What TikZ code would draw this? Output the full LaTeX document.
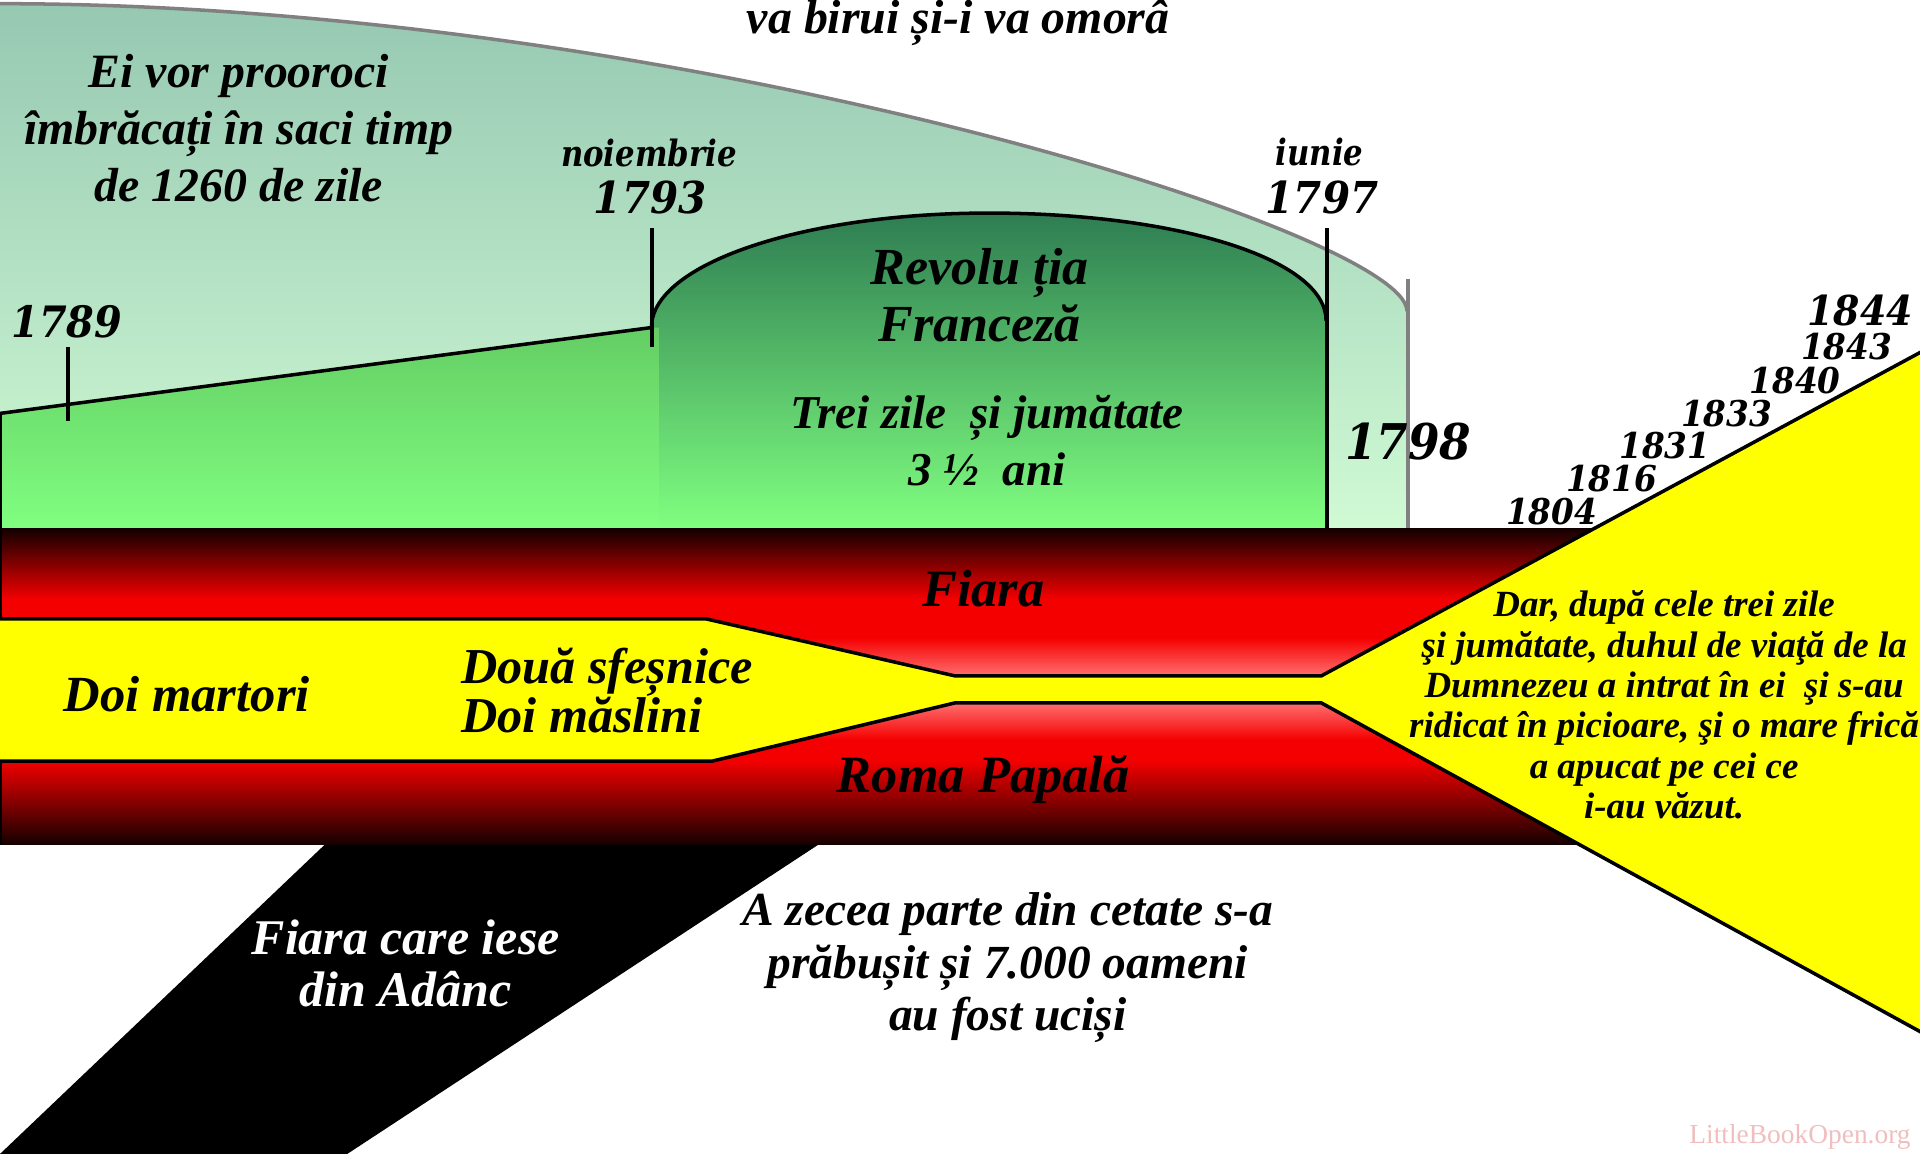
\documentclass[tikz,border=0pt]{standalone}
\usepackage{fontspec}
\setmainfont{Liberation Serif}
\newfontfamily\dvs[FakeStretch=0.92]{DejaVu Serif}
\newfontfamily\dvsc[FakeStretch=0.85]{DejaVu Serif}
\definecolor{domeTop}{RGB}{150,200,178}
\definecolor{domeBot}{RGB}{208,250,212}
\definecolor{leftTop}{RGB}{100,205,100}
\definecolor{greenBot}{RGB}{128,255,128}
\definecolor{revTop}{RGB}{46,125,82}
\definecolor{bandBlack}{RGB}{20,0,0}
\definecolor{bandRed}{RGB}{245,0,0}
\definecolor{bandPink}{RGB}{255,110,110}
\definecolor{stripYellow}{RGB}{255,255,0}
\definecolor{arcGray}{RGB}{128,128,128}
\definecolor{wmColor}{RGB}{240,190,190}
\pgfdeclareverticalshading{upperband}{100bp}{color(0bp)=(bandPink); color(25bp)=(bandPink); color(38bp)=(bandRed); color(51bp)=(bandRed); color(75bp)=(bandBlack); color(100bp)=(bandBlack)}
\pgfdeclareverticalshading{lowerband}{100bp}{color(0bp)=(bandBlack); color(25bp)=(bandBlack); color(55bp)=(bandRed); color(62bp)=(bandRed); color(75bp)=(bandPink); color(100bp)=(bandPink)}
\begin{document}
\begin{tikzpicture}[x=0.012245cm,y=-0.012245cm,
  outline/.style={line width=1pt,line join=miter},
  tickline/.style={line width=1.1pt},
  grayline/.style={arcGray,line width=1.1pt},
  tnr/.style={inner sep=0pt,font=\bfseries\itshape},
  yearlbl/.style={inner sep=0pt,anchor=center},
  monthlbl/.style={inner sep=0pt,anchor=base,font={\dvsc\bfseries\itshape\fontsize{10.3}{12}\selectfont}}]
\useasboundingbox (0,0) rectangle (1568,942);
\clip (0,0) rectangle (1568,942);
% outer dome
\shade[top color=domeTop,bottom color=domeBot] (0,3) .. controls (550,3) and (1149,190) .. (1149,254) -- (1149,432) -- (0,432) -- cycle;
\draw[grayline,line width=1pt] (0,3) .. controls (550,3) and (1149,190) .. (1149,254);
\draw[grayline] (1150,228) -- (1150,432);
% revolution dome and left region
\shade[top color=revTop,bottom color=greenBot] (532,267.5) .. controls (532,216) and (655,174) .. (807.5,174) .. controls (960,174) and (1083,211) .. (1083,262) -- (1083,432) -- (532,432) -- cycle;
\shade[top color=leftTop,bottom color=greenBot] (0,337.6) -- (532,267.5) -- (538,267.5) -- (538,432) -- (0,432) -- cycle;
\draw[outline] (0,432) -- (0,337.6) -- (532,267.5) .. controls (532,216) and (655,174) .. (807.5,174) .. controls (960,174) and (1083,211) .. (1083,262);
\draw[tickline] (55.8,283) -- (55.8,344);
\draw[tickline] (532.2,186.5) -- (532.2,283);
\draw[tickline] (1083.4,186) -- (1083.4,432);
% red bands
\shade[shading=upperband] (0,432) rectangle (1320,552);
\shade[shading=lowerband] (0,574) rectangle (1320,690);
\draw[outline] (0,432) -- (0,505.5);
\draw[outline] (0,621.5) -- (0,690);
% yellow strip and triangle
\fill[stripYellow] (0,505.5) -- (577,505.5) -- (780,552) -- (1079,552) -- (1600,270.6) -- (1600,860) -- (1079,574) -- (780,574) -- (582,621.5) -- (0,621.5) -- cycle;
\draw[outline] (0,505.5) -- (577,505.5) -- (780,552) -- (1079,552) -- (1600,270.6);
\draw[outline] (0,621.5) -- (582,621.5) -- (780,574) -- (1079,574) -- (1600,860);
% black beast from the abyss
\fill[black] (265,690) -- (668,690) -- (272,950) -- (-8,950) -- cycle;
% texts
\node[tnr,anchor=base,font={\bfseries\itshape\fontsize{13.6}{16.2}\selectfont}] (top) at (782.5,27.7) {va birui și-i va omorâ};
\node[tnr,anchor=base,align=center,font={\bfseries\itshape\fontsize{13.6}{16.2}\selectfont}] (prooroci) at (195,164.8) {Ei vor prooroci\\ îmbrăcați în saci timp\\ de 1260 de zile};
\node[monthlbl] (noiembrie) at (530,135.6) {noiembrie};
\node[monthlbl] (iunie) at (1077.7,134.8) {iunie};
\node[yearlbl,font={\dvs\bfseries\itshape\fontsize{12.5}{14}\selectfont}] (y1793) at (531,161.3) {1793};
\node[yearlbl,font={\dvs\bfseries\itshape\fontsize{12.5}{14}\selectfont}] (y1797) at (1079.7,161.3) {1797};
\node[yearlbl,font={\dvs\bfseries\itshape\fontsize{12.3}{14}\selectfont}] (y1789) at (54.5,262.8) {1789};
\node[yearlbl,font={\dvs\bfseries\itshape\fontsize{14}{16}\selectfont}] (y1798) at (1150,360.6) {1798};
\node[tnr,anchor=base,align=center,font={\bfseries\itshape\fontsize{14.8}{16.2}\selectfont}] (revolutia) at (800,278.5) {Revolu ția\\ Franceză};
\node[tnr,anchor=base,align=center,font={\bfseries\itshape\fontsize{13.4}{16.2}\selectfont}] (treizile) at (806,396.7) {Trei zile~ și jumătate\\ 3 ½~ ani};
\node[tnr,anchor=base,font={\bfseries\itshape\fontsize{14.9}{16}\selectfont}] (fiara) at (803,495.6) {Fiara};
\node[tnr,anchor=base,font={\bfseries\itshape\fontsize{14.9}{16}\selectfont}] (roma) at (803,647.2) {Roma Papală};
\node[tnr,anchor=base,font={\bfseries\itshape\fontsize{14.4}{16}\selectfont}] (martori) at (152.5,581.3) {Doi martori};
\node[tnr,anchor=base west,align=left,font={\bfseries\itshape\fontsize{14.3}{13.75}\selectfont}] (sfesnice) at (376,597.8) {Două sfeșnice\\ Doi măslini};
\node[tnr,anchor=base,align=center,text=white,font={\bfseries\itshape\fontsize{14.2}{14.9}\selectfont}] (adanc) at (331.3,822) {Fiara care iese\\ din Adânc};
\node[tnr,anchor=base,align=center,font={\bfseries\itshape\fontsize{13.5}{14.9}\selectfont}] (zecea) at (823,841.7) {A zecea parte din cetate s-a\\ prăbușit și 7.000 oameni\\ au fost uciși};
\node[tnr,anchor=base,align=center,font={\bfseries\itshape\fontsize{10.5}{11.5}\selectfont}] (dar) at (1359,668.7) {Dar, după cele trei zile\\ şi jumătate, duhul de viaţă de la\\ Dumnezeu a intrat în ei~ şi s-au\\ ridicat în picioare, şi o mare frică\\ a apucat pe cei ce\\ i-au văzut.};
\node[yearlbl,font={\dvs\bfseries\itshape\fontsize{10.1}{12}\selectfont}] (y1804) at (1267.2,417.9) {1804};
\node[yearlbl,font={\dvs\bfseries\itshape\fontsize{10.1}{12}\selectfont}] (y1816) at (1316.2,390.9) {1816};
\node[yearlbl,font={\dvs\bfseries\itshape\fontsize{10.1}{12}\selectfont}] (y1831) at (1359.7,363.7) {1831};
\node[yearlbl,font={\dvs\bfseries\itshape\fontsize{10.1}{12}\selectfont}] (y1833) at (1410.1,338.1) {1833};
\node[yearlbl,font={\dvs\bfseries\itshape\fontsize{10.1}{12}\selectfont}] (y1840) at (1465.9,310.6) {1840};
\node[yearlbl,font={\dvs\bfseries\itshape\fontsize{10.1}{12}\selectfont}] (y1843) at (1508.1,283.4) {1843};
\node[yearlbl,font={\dvs\bfseries\itshape\fontsize{11.7}{14}\selectfont}] (y1844) at (1519,253.7) {1844};
\node[inner sep=0pt,anchor=base,text=wmColor,font={\fontsize{7.8}{9}\selectfont}] (watermark) at (1470,933.7) {LittleBookOpen.org};
\end{tikzpicture}
\end{document}
